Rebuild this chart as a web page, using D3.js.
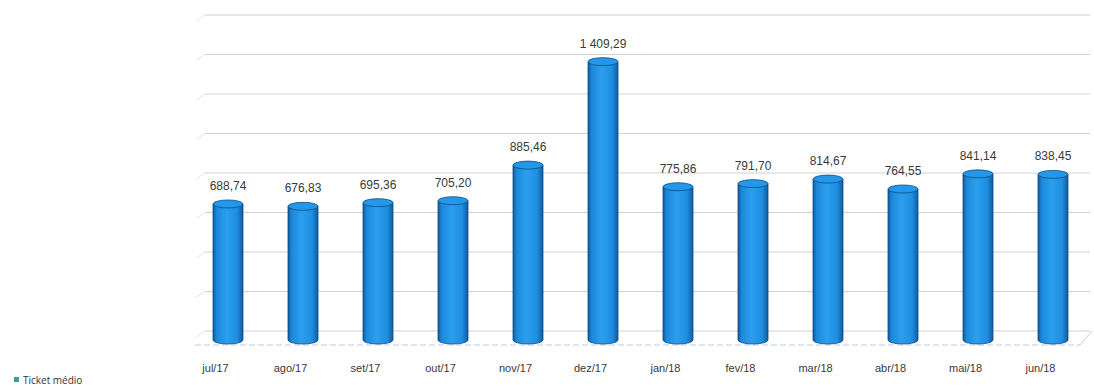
<!DOCTYPE html>
<html>
<head>
<meta charset="utf-8">
<script src="https://cdn.jsdelivr.net/npm/d3@7/dist/d3.min.js"></script>
<style>
  html, body { margin: 0; padding: 0; background: #fff; }
  svg { display: block; font-family: "Liberation Sans", Arial, sans-serif; }
</style>
</head>
<body>
<svg id="chart" width="1094" height="390"></svg>
<script>
// Monthly average ticket, jul/17 – jun/18
const months = ["jul/17", "ago/17", "set/17", "out/17", "nov/17", "dez/17",
                "jan/18", "fev/18", "mar/18", "abr/18", "mai/18", "jun/18"];
const ticketMedio = [688.74, 676.83, 695.36, 705.20, 885.46, 1409.29,
                     775.86, 791.70, 814.67, 764.55, 841.14, 838.45];
const gridTicks = [0, 200, 400, 600, 800, 1000, 1200, 1400, 1600];
const seriesName = "Ticket médio";

const svg = d3.select("#chart");
const depth = 9;          // back-wall offset of the 3D plot area
const barW = 30;

const x = d3.scalePoint().domain(months).range([190.5, 1090.5]).padding(0.5);
const y = d3.scaleLinear().domain([0, 1600]).range([340, 24]);

const fmt = v => {
  const s = v.toFixed(2).replace(".", ",");
  const [i, f] = s.split(",");
  return i.replace(/\B(?=(\d{3})+(?!\d))/g, " ") + "," + f;
};

// gradient for the cylinder body
const defs = svg.append("defs");
const g = defs.append("linearGradient").attr("id", "cyl").attr("x1", "0").attr("x2", "1").attr("y1", "0").attr("y2", "0");
[[0, "#10589a"], [0.12, "#1c88da"], [0.45, "#2b9fee"], [0.8, "#1f8ee0"], [1, "#115c9e"]]
  .forEach(([o, c]) => g.append("stop").attr("offset", o).attr("stop-color", c));

// back wall gridlines
const grid = svg.append("g").attr("class", "grid");
grid.selectAll("line.h").data(gridTicks).join("line")
  .attr("x1", 205).attr("x2", 1090)
  .attr("y1", d => y(d) - depth).attr("y2", d => y(d) - depth)
  .attr("stroke", "#d2d2d2").attr("stroke-width", 1);
// left wall edge ticks
grid.selectAll("line.l").data(gridTicks).join("line")
  .attr("x1", 196).attr("x2", 205)
  .attr("y1", d => y(d) - depth + 6).attr("y2", d => y(d) - depth)
  .attr("stroke", "#e4e4e4").attr("stroke-width", 1);

// floor
const floor = svg.append("g");
floor.append("line")
  .attr("x1", 195).attr("x2", 1080)
  .attr("y1", y(0) + 5).attr("y2", y(0) + 5)
  .attr("stroke", "#bcc8de").attr("stroke-width", 1).attr("stroke-dasharray", "6,3");
floor.append("line")
  .attr("x1", 1080).attr("x2", 1092)
  .attr("y1", y(0) + 5).attr("y2", y(0) - depth)
  .attr("stroke", "#cccccc").attr("stroke-width", 1);

// cylinders
const ry = 4;
const bars = svg.append("g").selectAll("g").data(months).join("g");
bars.append("path")
  .attr("d", (m, i) => {
    const x0 = x(m) - barW / 2, x1 = x(m) + barW / 2;
    const top = y(ticketMedio[i]), bot = y(0);
    return `M${x0},${top} L${x0},${bot} A${barW / 2},${ry} 0 0 0 ${x1},${bot} L${x1},${top} Z`;
  })
  .attr("fill", "url(#cyl)")
  .attr("stroke", "#0c4c85").attr("stroke-width", 0.8);
bars.append("ellipse")
  .attr("cx", m => x(m))
  .attr("cy", (m, i) => y(ticketMedio[i]))
  .attr("rx", barW / 2).attr("ry", ry)
  .attr("fill", "#2597e8")
  .attr("stroke", "#0c4c85").attr("stroke-width", 0.8);

// value labels
svg.append("g").selectAll("text").data(months).join("text")
  .attr("x", m => x(m))
  .attr("y", (m, i) => y(ticketMedio[i]) - 14)
  .attr("text-anchor", "middle")
  .attr("font-size", 12)
  .attr("fill", "#3a3a3a")
  .text((m, i) => fmt(ticketMedio[i]));

// category axis
const xAxis = d3.axisBottom(x).tickSize(0).tickPadding(0);
const ax = svg.append("g").attr("transform", `translate(-13,${y(0) + 24})`).call(xAxis);
ax.select(".domain").remove();
ax.selectAll("text").attr("font-size", 11).attr("fill", "#3a3a3a")
  .attr("font-family", "\"Liberation Sans\", Arial, sans-serif");

// legend
const leg = svg.append("g").attr("transform", "translate(14,381)");
leg.append("rect").attr("x", 0).attr("y", -4).attr("width", 5).attr("height", 5).attr("fill", "#3f9f8c");
leg.append("text").attr("x", 9).attr("y", 3).attr("font-size", 10).attr("fill", "#333")
  .attr("font-family", "\"Open Sans\", \"DejaVu Sans\", sans-serif").text(seriesName);
</script>
</body>
</html>
